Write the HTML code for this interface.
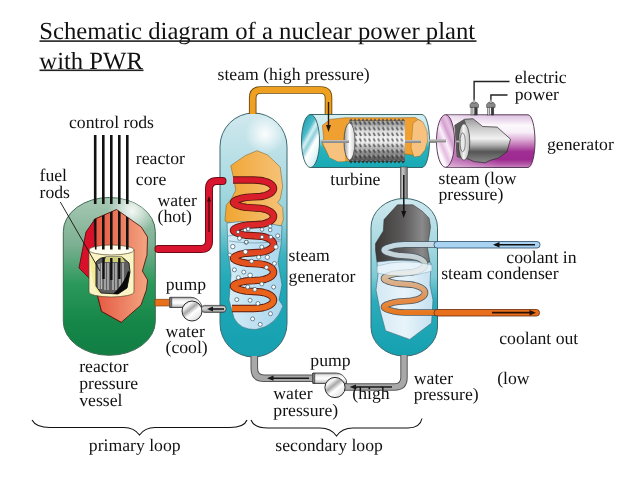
<!DOCTYPE html>
<html><head><meta charset="utf-8">
<style>
html,body{margin:0;padding:0;background:#fff;}
body{width:638px;height:479px;overflow:hidden;}
svg{display:block;will-change:transform;}
text{font-family:"Liberation Serif",serif;fill:#111;text-rendering:geometricPrecision;}
.t{font-size:17.7px;}
</style></head>
<body>
<svg width="638" height="479" viewBox="0 0 638 479">
<defs>
  <linearGradient id="gVessel" x1="0" y1="0" x2="0" y2="1">
    <stop offset="0" stop-color="#a8c8b4"/>
    <stop offset="0.3" stop-color="#7cb092"/>
    <stop offset="0.55" stop-color="#2a985a"/>
    <stop offset="0.8" stop-color="#158648"/>
    <stop offset="1" stop-color="#117e44"/>
  </linearGradient>
  <radialGradient id="gVesselHi" gradientUnits="userSpaceOnUse" cx="132" cy="211" r="24">
    <stop offset="0" stop-color="#ffffff" stop-opacity="0.9"/>
    <stop offset="1" stop-color="#ffffff" stop-opacity="0"/>
  </radialGradient>
  <linearGradient id="gCore" x1="0" y1="0" x2="1" y2="0">
    <stop offset="0" stop-color="#e4523c"/>
    <stop offset="1" stop-color="#f3a582"/>
  </linearGradient>
  <linearGradient id="gSG" x1="0" y1="0" x2="0" y2="1">
    <stop offset="0" stop-color="#d0e8ee"/>
    <stop offset="0.25" stop-color="#b0dce3"/>
    <stop offset="0.45" stop-color="#8ccfd8"/>
    <stop offset="0.58" stop-color="#3cb3c0"/>
    <stop offset="0.7" stop-color="#20a8b6"/>
    <stop offset="1" stop-color="#16a0b0"/>
  </linearGradient>
  <radialGradient id="gSGHi" gradientUnits="userSpaceOnUse" cx="265" cy="134" r="20">
    <stop offset="0" stop-color="#ffffff" stop-opacity="0.95"/>
    <stop offset="1" stop-color="#ffffff" stop-opacity="0"/>
  </radialGradient>
  <linearGradient id="gCoil" gradientUnits="userSpaceOnUse" x1="0" y1="180" x2="0" y2="310">
    <stop offset="0" stop-color="#d8182c"/>
    <stop offset="0.4" stop-color="#dc2a28"/>
    <stop offset="0.6" stop-color="#e4501e"/>
    <stop offset="1" stop-color="#ea6a1a"/>
  </linearGradient>
  <linearGradient id="gCondWater" x1="0" y1="0" x2="1" y2="0">
    <stop offset="0" stop-color="#d4e8f4"/>
    <stop offset="0.5" stop-color="#e8f4fa"/>
    <stop offset="1" stop-color="#c4e0f0"/>
  </linearGradient>
  <linearGradient id="gCCoil" gradientUnits="userSpaceOnUse" x1="0" y1="244" x2="0" y2="313">
    <stop offset="0" stop-color="#c4dae6"/>
    <stop offset="0.2" stop-color="#c6d2d6"/>
    <stop offset="0.4" stop-color="#d6c6aa"/>
    <stop offset="0.6" stop-color="#dcaa80"/>
    <stop offset="0.8" stop-color="#e48e4c"/>
    <stop offset="1" stop-color="#e8781e"/>
  </linearGradient>
  <linearGradient id="gHousing" x1="0" y1="0" x2="0" y2="1">
    <stop offset="0" stop-color="#9a9a9a"/>
    <stop offset="0.25" stop-color="#eeeeee"/>
    <stop offset="0.55" stop-color="#ffffff"/>
    <stop offset="0.85" stop-color="#d0d0d0"/>
    <stop offset="1" stop-color="#8a8a8a"/>
  </linearGradient>
  <linearGradient id="gPumpBall" x1="0.1" y1="0" x2="0.9" y2="1">
    <stop offset="0" stop-color="#bdbdbd"/>
    <stop offset="0.22" stop-color="#f8f8f8"/>
    <stop offset="0.4" stop-color="#a8a8a8"/>
    <stop offset="0.58" stop-color="#ffffff"/>
    <stop offset="0.85" stop-color="#e4e4e4"/>
    <stop offset="1" stop-color="#9a9a9a"/>
  </linearGradient>
  <linearGradient id="gPipeH" x1="0" y1="0" x2="0" y2="1">
    <stop offset="0" stop-color="#8a8a8a"/>
    <stop offset="0.35" stop-color="#d8d8d8"/>
    <stop offset="0.65" stop-color="#c0c0c0"/>
    <stop offset="1" stop-color="#7a7a7a"/>
  </linearGradient>
  <linearGradient id="gPipeV" x1="0" y1="0" x2="1" y2="0">
    <stop offset="0" stop-color="#6a6a6a"/>
    <stop offset="0.35" stop-color="#c8c8c8"/>
    <stop offset="0.7" stop-color="#9a9a9a"/>
    <stop offset="1" stop-color="#6a6a6a"/>
  </linearGradient>
  <linearGradient id="gSteam" x1="0" y1="0" x2="1" y2="0">
    <stop offset="0" stop-color="#f0a530"/>
    <stop offset="1" stop-color="#f6c27a"/>
  </linearGradient>
  <linearGradient id="gWater" x1="0" y1="0" x2="1" y2="0">
    <stop offset="0" stop-color="#d6ecf6"/>
    <stop offset="1" stop-color="#a9d6ee"/>
  </linearGradient>
  <linearGradient id="gTurb" x1="0" y1="0" x2="0" y2="1">
    <stop offset="0" stop-color="#d5eff2"/>
    <stop offset="0.45" stop-color="#bfe6ea"/>
    <stop offset="0.62" stop-color="#2bb3bd"/>
    <stop offset="1" stop-color="#17a9b4"/>
  </linearGradient>
  <linearGradient id="gTurbEnd" x1="0.2" y1="0" x2="0.8" y2="1">
    <stop offset="0" stop-color="#169eae"/>
    <stop offset="0.28" stop-color="#4cbac8"/>
    <stop offset="0.4" stop-color="#d8f0f4"/>
    <stop offset="0.5" stop-color="#8ed0da"/>
    <stop offset="0.62" stop-color="#ffffff"/>
    <stop offset="0.8" stop-color="#e8f6f8"/>
    <stop offset="1" stop-color="#bfe6ec"/>
  </linearGradient>
  <linearGradient id="gGen" x1="0" y1="0" x2="0" y2="1">
    <stop offset="0" stop-color="#dcc0e0"/>
    <stop offset="0.12" stop-color="#eedff0"/>
    <stop offset="0.2" stop-color="#fcf8fc"/>
    <stop offset="0.33" stop-color="#f8f0f8"/>
    <stop offset="0.45" stop-color="#e2b8dc"/>
    <stop offset="0.58" stop-color="#c070b4"/>
    <stop offset="0.7" stop-color="#a02e94"/>
    <stop offset="0.85" stop-color="#9c2a90"/>
    <stop offset="0.95" stop-color="#b860ac"/>
    <stop offset="1" stop-color="#c888c0"/>
  </linearGradient>
  <linearGradient id="gMotorEnd" x1="0" y1="0" x2="1" y2="0">
    <stop offset="0" stop-color="#8a8a8a"/>
    <stop offset="0.45" stop-color="#f4f4f4"/>
    <stop offset="1" stop-color="#b8b8b8"/>
  </linearGradient>
  <linearGradient id="gGenEnd" x1="0.9" y1="0" x2="0.1" y2="1">
    <stop offset="0" stop-color="#b050a8"/>
    <stop offset="0.22" stop-color="#e6c4e2"/>
    <stop offset="0.35" stop-color="#d4a0d0"/>
    <stop offset="0.5" stop-color="#fbf0fa"/>
    <stop offset="0.65" stop-color="#e4bce0"/>
    <stop offset="0.8" stop-color="#ffffff"/>
    <stop offset="1" stop-color="#e8c8e6"/>
  </linearGradient>
  <linearGradient id="gGenShade" x1="0" y1="0" x2="1" y2="0">
    <stop offset="0" stop-color="#ffffff" stop-opacity="0.45"/>
    <stop offset="0.6" stop-color="#ffffff" stop-opacity="0"/>
  </linearGradient>
  <linearGradient id="gMotor" x1="0" y1="0" x2="0" y2="1">
    <stop offset="0" stop-color="#9a9a9a"/>
    <stop offset="0.2" stop-color="#c8c8c8"/>
    <stop offset="0.45" stop-color="#f2f2f2"/>
    <stop offset="0.6" stop-color="#b0b0b0"/>
    <stop offset="0.75" stop-color="#555555"/>
    <stop offset="1" stop-color="#8a8a8a"/>
  </linearGradient>
  <linearGradient id="gCond" x1="0" y1="0" x2="0" y2="1">
    <stop offset="0" stop-color="#cfe8ee"/>
    <stop offset="0.3" stop-color="#a6d8e0"/>
    <stop offset="0.5" stop-color="#7ccad4"/>
    <stop offset="0.65" stop-color="#2aacba"/>
    <stop offset="1" stop-color="#14a0b0"/>
  </linearGradient>
  <linearGradient id="gDark" x1="0" y1="0" x2="1" y2="0">
    <stop offset="0" stop-color="#3c3838"/>
    <stop offset="0.5" stop-color="#5c5a5a"/>
    <stop offset="0.85" stop-color="#8a8a8a"/>
    <stop offset="1" stop-color="#6e6e6e"/>
  </linearGradient>
  <linearGradient id="gPipeG" x1="0" y1="0" x2="0" y2="1">
    <stop offset="0" stop-color="#f0f0f0"/>
    <stop offset="0.5" stop-color="#c8c8c8"/>
    <stop offset="1" stop-color="#8a8a8a"/>
  </linearGradient>
  <radialGradient id="gPump" cx="0.35" cy="0.35" r="0.7">
    <stop offset="0" stop-color="#ffffff"/>
    <stop offset="0.6" stop-color="#d8d8d8"/>
    <stop offset="1" stop-color="#7a7a7a"/>
  </radialGradient>
  <linearGradient id="gRotor" x1="0" y1="0" x2="0" y2="1">
    <stop offset="0" stop-color="#8a8a8a"/>
    <stop offset="0.25" stop-color="#dcdcdc"/>
    <stop offset="0.5" stop-color="#f8f8f8"/>
    <stop offset="0.72" stop-color="#a4a4a4"/>
    <stop offset="1" stop-color="#505050"/>
  </linearGradient>
  <linearGradient id="gRotorEnd" x1="0" y1="0" x2="1" y2="0">
    <stop offset="0" stop-color="#9a9a9a"/>
    <stop offset="0.5" stop-color="#ffffff"/>
    <stop offset="1" stop-color="#d0d0d0"/>
  </linearGradient>
  <pattern id="pBlade" x="349" y="121" width="4.6" height="5.6" patternUnits="userSpaceOnUse">
    <path d="M0.6,0.8 L2.4,0.4 L3.8,3.4 L2,3.9 Z" fill="#262626" opacity="0.65"/>
    <path d="M2.6,0.5 L4.2,0.4 L4.4,2.2 Z" fill="#ffffff" opacity="0.7"/>
  </pattern>
</defs>

<!-- Title -->
<text x="39.2" y="39" style="font-size:24.7px">Schematic diagram of a nuclear power plant</text>
<rect x="39.5" y="40.3" width="437" height="1.6" fill="#222"/>
<text x="39.3" y="68.5" style="font-size:24.7px">with PWR</text>
<rect x="39.5" y="69.5" width="104" height="1.6" fill="#222"/>

<!-- ========== REACTOR ========== -->
<rect x="63.3" y="197.5" width="92" height="157.8" rx="46" ry="34" fill="url(#gVessel)" stroke="#3c6b52" stroke-width="1"/>
<rect x="63.3" y="197.5" width="92" height="157.8" rx="46" ry="34" fill="url(#gVesselHi)"/>
<!-- red left part -->
<polygon points="95,219 86,232 79,268 89,278 97.8,296.7 101.5,311.3 121.3,322.3 117,210" fill="#d8102a" stroke="#5a1010" stroke-width="0.9"/>
<!-- salmon core -->
<clipPath id="cpCore"><polygon points="94,219.5 116.5,209.5 141.3,227 147.5,237 147,255 142.4,271 147.6,280 146.4,290 141,305 121.3,322.3 101.5,311.3 97.8,296.7 92,274 95,250"/></clipPath>
<polygon points="94,219.5 116.5,209.5 141.3,227 147.5,237 147,255 142.4,271 147.6,280 146.4,290 141,305 121.3,322.3 101.5,311.3 97.8,296.7 92,274 95,250" fill="url(#gCore)" stroke="#5a1a10" stroke-width="0.9"/>

<!-- yellow cylinder -->
<path d="M89,250 L89,292 A22.5,5 0 0 0 134,292 L134,250 Z" fill="#fbf5c6" stroke="#5a4a2a" stroke-width="0.7"/>
<path d="M90,256 Q92,290 100,294 L96,262 Z" fill="#f2e88a" opacity="0.8"/>
<ellipse cx="111.5" cy="250" rx="22.5" ry="5" fill="#fffdf0" stroke="#5a4a2a" stroke-width="0.7"/>
<g stroke="#111" stroke-width="2.6" clip-path="url(#cpCore)">
  <line x1="95.2" y1="200" x2="95.2" y2="249.5"/>
  <line x1="103.3" y1="200" x2="103.3" y2="249.5"/>
  <line x1="111.3" y1="200" x2="111.3" y2="249.5"/>
  <line x1="119.3" y1="200" x2="119.3" y2="249.5"/>
  <line x1="127.3" y1="200" x2="127.3" y2="249.5"/>
</g>
<!-- fuel assembly -->
<path d="M96,262 Q100,257 106,257 L122,257 L129,263 L130,272 L127,288 L118,294 L101,293 L96,286 Z" fill="#5e5e5e" stroke="#1a1a1a" stroke-width="0.9"/>
<path d="M106,257 L122,257 L125,262 L104,262 Z" fill="#cfcf7a"/>
<g stroke="#b8b8b8" stroke-width="1.5" fill="none">
  <path d="M99,264 L99,289 M101.5,289 L101.5,263"/>
  <path d="M105,263 L105,290 M108,290 L108,263"/>
  <path d="M113,263 L113,290 M116,290 L116,263"/>
  <path d="M120,263 L120,289 M123,287 L123,263"/>
</g>
<path d="M130,272 L127,288 L118,294 L113,294 Q124,284 128,271 Z" fill="#0a0a0a"/>
<g stroke="#111" stroke-width="2.4">
  <line x1="103.5" y1="258" x2="103.5" y2="279"/>
  <line x1="111.3" y1="258" x2="111.3" y2="280"/>
  <line x1="119.3" y1="258" x2="119.3" y2="279"/>
</g>
<!-- control rods (outside) -->
<g stroke="#111" stroke-width="2.6">
  <line x1="95.2" y1="135" x2="95.2" y2="204"/>
  <line x1="103.3" y1="135" x2="103.3" y2="204"/>
  <line x1="111.3" y1="135" x2="111.3" y2="204"/>
  <line x1="119.3" y1="135" x2="119.3" y2="204"/>
  <line x1="127.3" y1="135" x2="127.3" y2="204"/>
</g>
<!-- fuel rods pointer -->
<line x1="60.3" y1="202" x2="100" y2="271" stroke="#111" stroke-width="0.9"/>

<!-- cool pipe (orange) -->
<rect x="155" y="299.2" width="16" height="6.8" fill="#e8701c" stroke="#7a3a0a" stroke-width="0.6"/>

<!-- pump 1 -->
<path d="M170,297.3 L191,297.3 Q198,297.5 201.5,305 L201.5,307.5 L170,307.5 Z" fill="url(#gHousing)" stroke="#333" stroke-width="0.8"/>
<rect x="169.3" y="297.8" width="2.6" height="9.4" fill="#777" stroke="#333" stroke-width="0.5"/>
<circle cx="192" cy="311" r="10" fill="url(#gPumpBall)" stroke="#2a2a2a" stroke-width="1"/>

<!-- ========== STEAM GENERATOR ========== -->
<rect x="220" y="113" width="67" height="244" rx="33.5" ry="33.5" fill="url(#gSG)" stroke="#3a6870" stroke-width="1"/>
<rect x="220" y="113" width="67" height="244" rx="33.5" ry="33.5" fill="url(#gSGHi)"/>
<!-- steam (orange) -->
<polygon points="257,150.7 267.7,155 280.2,167 282.7,186.4 280.2,199 277.7,202.5 282.7,207.5 283.3,220 281,226 250,224 226,222 225,220 226.3,205 231.3,199 235.7,190.2 234.4,181.4 230.7,165.7 245.1,155.7" fill="url(#gSteam)" stroke="#8a6a30" stroke-width="0.6"/>
<!-- water (light blue) -->
<path d="M227,223 Q250,219 282,226 L281,245 L278,262 L282,285 L279,300 L283,306 Q276,326 256,329.5 Q240,330 234,318 L229,300 L231,275 L228,250 Z" fill="url(#gWater)" stroke="#3a6a7a" stroke-width="0.6"/>
<path d="M228,236 Q255,232 281,240 M229,241 Q255,245 280,241" fill="none" stroke="#5a8a9a" stroke-width="0.6"/>
<!-- coil -->
<path d="M233,180 L253.5,180.0 L260.7,180.5 L263.4,181.0 L265.3,181.5 L266.8,182.0 L268.1,182.5 L269.2,183.1 L270.2,183.6 L271.0,184.2 L271.7,184.8 L272.2,185.4 L272.7,186.0 L273.1,186.6 L273.3,187.2 L273.5,187.8 L273.5,188.5 L273.5,189.1 L273.3,189.7 L273.1,190.3 L272.7,190.9 L272.2,191.5 L271.7,192.1 L271.0,192.7 L270.2,193.3 L269.2,193.9 L268.1,194.4 L266.8,195.0 L265.3,195.5 L263.4,196.0 L260.7,196.5 L253.5,196.9 L246.3,197.4 L243.6,197.8 L241.7,198.3 L240.2,198.7 L238.9,199.1 L237.8,199.4 L236.8,199.8 L236.0,200.2 L235.3,200.5 L234.8,200.8 L234.3,201.2 L233.9,201.5 L233.7,201.8 L233.5,202.1 L233.5,202.4 L233.5,202.7 L233.7,203.0 L233.9,203.3 L234.3,203.7 L234.8,204.0 L235.3,204.3 L236.0,204.7 L236.8,205.0 L237.8,205.4 L238.9,205.8 L240.2,206.2 L241.7,206.6 L243.6,207.0 L246.3,207.4 L253.5,207.9 L260.7,208.4 L263.4,208.8 L265.3,209.3 L266.8,209.9 L268.1,210.4 L269.2,211.0 L270.2,211.5 L271.0,212.1 L271.7,212.7 L272.2,213.3 L272.7,213.9 L273.1,214.5 L273.3,215.1 L273.5,215.7 L273.5,216.3 L273.5,217.0 L273.3,217.6 L273.1,218.2 L272.7,218.8 L272.2,219.4 L271.7,220.0 L271.0,220.6 L270.2,221.2 L269.2,221.7 L268.1,222.3 L266.8,222.8 L265.3,223.4 L263.4,223.9 L260.7,224.3 L253.5,224.8 L246.3,225.3 L243.6,225.7 L241.7,226.1 L240.2,226.5 L238.9,226.9 L237.8,227.3 L236.8,227.7 L236.0,228.0 L235.3,228.4 L234.8,228.7 L234.3,229.0 L233.9,229.4 L233.7,229.7 L233.5,230.0 L233.5,230.3 L233.5,230.6 L233.7,230.9 L233.9,231.2 L234.3,231.5 L234.8,231.9 L235.3,232.2 L236.0,232.5 L236.8,232.9 L237.8,233.3 L238.9,233.6 L240.2,234.0 L241.7,234.4 L243.6,234.9 L246.3,235.3 L253.5,235.8 L260.7,236.2 L263.4,236.7 L265.3,237.2 L266.8,237.7 L268.1,238.3 L269.2,238.8 L270.2,239.4 L271.0,240.0 L271.7,240.6 L272.2,241.2 L272.7,241.8 L273.1,242.4 L273.3,243.0 L273.5,243.6 L273.5,244.2 L273.5,244.9 L273.3,245.5 L273.1,246.1 L272.7,246.7 L272.2,247.3 L271.7,247.9 L271.0,248.5 L270.2,249.1 L269.2,249.6 L268.1,250.2 L266.8,250.7 L265.3,251.2 L263.4,251.7 L260.7,252.2 L253.5,252.7 L246.3,253.2 L243.6,253.6 L241.7,254.0 L240.2,254.4 L238.9,254.8 L237.8,255.2 L236.8,255.6 L236.0,255.9 L235.3,256.3 L234.8,256.6 L234.3,256.9 L233.9,257.2 L233.7,257.6 L233.5,257.9 L233.5,258.2 L233.5,258.5 L233.7,258.8 L233.9,259.1 L234.3,259.4 L234.8,259.7 L235.3,260.1 L236.0,260.4 L236.8,260.8 L237.8,261.1 L238.9,261.5 L240.2,261.9 L241.7,262.3 L243.6,262.7 L246.3,263.2 L253.5,263.6 L260.7,264.1 L263.4,264.6 L265.3,265.1 L266.8,265.6 L268.1,266.2 L269.2,266.7 L270.2,267.3 L271.0,267.9 L271.7,268.4 L272.2,269.0 L272.7,269.6 L273.1,270.3 L273.3,270.9 L273.5,271.5 L273.5,272.1 L273.5,272.7 L273.3,273.4 L273.1,274.0 L272.7,274.6 L272.2,275.2 L271.7,275.8 L271.0,276.4 L270.2,276.9 L269.2,277.5 L268.1,278.1 L266.8,278.6 L265.3,279.1 L263.4,279.6 L260.7,280.1 L253.5,280.6 L246.3,281.0 L243.6,281.5 L241.7,281.9 L240.2,282.3 L238.9,282.7 L237.8,283.1 L236.8,283.4 L236.0,283.8 L235.3,284.1 L234.8,284.5 L234.3,284.8 L233.9,285.1 L233.7,285.4 L233.5,285.7 L233.5,286.0 L233.5,286.4 L233.7,286.7 L233.9,287.0 L234.3,287.3 L234.8,287.6 L235.3,288.0 L236.0,288.3 L236.8,288.7 L237.8,289.0 L238.9,289.4 L240.2,289.8 L241.7,290.2 L243.6,290.6 L246.3,291.1 L253.5,291.5 L260.7,292.0 L263.4,292.5 L265.3,293.0 L266.8,293.5 L268.1,294.0 L269.2,294.6 L270.2,295.2 L271.0,295.7 L271.7,296.3 L272.2,296.9 L272.7,297.5 L273.1,298.1 L273.3,298.7 L273.5,299.4 L273.5,300.0 L273.5,300.6 L273.3,301.2 L273.1,301.8 L272.7,302.5 L272.2,303.1 L271.7,303.7 L271.0,304.2 L270.2,304.8 L269.2,305.4 L268.1,305.9 L266.8,306.5 L265.3,307.0 L263.4,307.5 L260.7,308.0 L253.5,308.5 L232,308.5" fill="none" stroke="#5a1a10" stroke-width="7.4" stroke-linejoin="round"/>
<path d="M233,180 L253.5,180.0 L260.7,180.5 L263.4,181.0 L265.3,181.5 L266.8,182.0 L268.1,182.5 L269.2,183.1 L270.2,183.6 L271.0,184.2 L271.7,184.8 L272.2,185.4 L272.7,186.0 L273.1,186.6 L273.3,187.2 L273.5,187.8 L273.5,188.5 L273.5,189.1 L273.3,189.7 L273.1,190.3 L272.7,190.9 L272.2,191.5 L271.7,192.1 L271.0,192.7 L270.2,193.3 L269.2,193.9 L268.1,194.4 L266.8,195.0 L265.3,195.5 L263.4,196.0 L260.7,196.5 L253.5,196.9 L246.3,197.4 L243.6,197.8 L241.7,198.3 L240.2,198.7 L238.9,199.1 L237.8,199.4 L236.8,199.8 L236.0,200.2 L235.3,200.5 L234.8,200.8 L234.3,201.2 L233.9,201.5 L233.7,201.8 L233.5,202.1 L233.5,202.4 L233.5,202.7 L233.7,203.0 L233.9,203.3 L234.3,203.7 L234.8,204.0 L235.3,204.3 L236.0,204.7 L236.8,205.0 L237.8,205.4 L238.9,205.8 L240.2,206.2 L241.7,206.6 L243.6,207.0 L246.3,207.4 L253.5,207.9 L260.7,208.4 L263.4,208.8 L265.3,209.3 L266.8,209.9 L268.1,210.4 L269.2,211.0 L270.2,211.5 L271.0,212.1 L271.7,212.7 L272.2,213.3 L272.7,213.9 L273.1,214.5 L273.3,215.1 L273.5,215.7 L273.5,216.3 L273.5,217.0 L273.3,217.6 L273.1,218.2 L272.7,218.8 L272.2,219.4 L271.7,220.0 L271.0,220.6 L270.2,221.2 L269.2,221.7 L268.1,222.3 L266.8,222.8 L265.3,223.4 L263.4,223.9 L260.7,224.3 L253.5,224.8 L246.3,225.3 L243.6,225.7 L241.7,226.1 L240.2,226.5 L238.9,226.9 L237.8,227.3 L236.8,227.7 L236.0,228.0 L235.3,228.4 L234.8,228.7 L234.3,229.0 L233.9,229.4 L233.7,229.7 L233.5,230.0 L233.5,230.3 L233.5,230.6 L233.7,230.9 L233.9,231.2 L234.3,231.5 L234.8,231.9 L235.3,232.2 L236.0,232.5 L236.8,232.9 L237.8,233.3 L238.9,233.6 L240.2,234.0 L241.7,234.4 L243.6,234.9 L246.3,235.3 L253.5,235.8 L260.7,236.2 L263.4,236.7 L265.3,237.2 L266.8,237.7 L268.1,238.3 L269.2,238.8 L270.2,239.4 L271.0,240.0 L271.7,240.6 L272.2,241.2 L272.7,241.8 L273.1,242.4 L273.3,243.0 L273.5,243.6 L273.5,244.2 L273.5,244.9 L273.3,245.5 L273.1,246.1 L272.7,246.7 L272.2,247.3 L271.7,247.9 L271.0,248.5 L270.2,249.1 L269.2,249.6 L268.1,250.2 L266.8,250.7 L265.3,251.2 L263.4,251.7 L260.7,252.2 L253.5,252.7 L246.3,253.2 L243.6,253.6 L241.7,254.0 L240.2,254.4 L238.9,254.8 L237.8,255.2 L236.8,255.6 L236.0,255.9 L235.3,256.3 L234.8,256.6 L234.3,256.9 L233.9,257.2 L233.7,257.6 L233.5,257.9 L233.5,258.2 L233.5,258.5 L233.7,258.8 L233.9,259.1 L234.3,259.4 L234.8,259.7 L235.3,260.1 L236.0,260.4 L236.8,260.8 L237.8,261.1 L238.9,261.5 L240.2,261.9 L241.7,262.3 L243.6,262.7 L246.3,263.2 L253.5,263.6 L260.7,264.1 L263.4,264.6 L265.3,265.1 L266.8,265.6 L268.1,266.2 L269.2,266.7 L270.2,267.3 L271.0,267.9 L271.7,268.4 L272.2,269.0 L272.7,269.6 L273.1,270.3 L273.3,270.9 L273.5,271.5 L273.5,272.1 L273.5,272.7 L273.3,273.4 L273.1,274.0 L272.7,274.6 L272.2,275.2 L271.7,275.8 L271.0,276.4 L270.2,276.9 L269.2,277.5 L268.1,278.1 L266.8,278.6 L265.3,279.1 L263.4,279.6 L260.7,280.1 L253.5,280.6 L246.3,281.0 L243.6,281.5 L241.7,281.9 L240.2,282.3 L238.9,282.7 L237.8,283.1 L236.8,283.4 L236.0,283.8 L235.3,284.1 L234.8,284.5 L234.3,284.8 L233.9,285.1 L233.7,285.4 L233.5,285.7 L233.5,286.0 L233.5,286.4 L233.7,286.7 L233.9,287.0 L234.3,287.3 L234.8,287.6 L235.3,288.0 L236.0,288.3 L236.8,288.7 L237.8,289.0 L238.9,289.4 L240.2,289.8 L241.7,290.2 L243.6,290.6 L246.3,291.1 L253.5,291.5 L260.7,292.0 L263.4,292.5 L265.3,293.0 L266.8,293.5 L268.1,294.0 L269.2,294.6 L270.2,295.2 L271.0,295.7 L271.7,296.3 L272.2,296.9 L272.7,297.5 L273.1,298.1 L273.3,298.7 L273.5,299.4 L273.5,300.0 L273.5,300.6 L273.3,301.2 L273.1,301.8 L272.7,302.5 L272.2,303.1 L271.7,303.7 L271.0,304.2 L270.2,304.8 L269.2,305.4 L268.1,305.9 L266.8,306.5 L265.3,307.0 L263.4,307.5 L260.7,308.0 L253.5,308.5 L232,308.5" fill="none" stroke="url(#gCoil)" stroke-width="5.6" stroke-linejoin="round"/>
<!-- bubbles -->
<g fill="#fff" stroke="#3a5a6a" stroke-width="0.7">
<circle cx="232.8" cy="246.6" r="2.2"/><circle cx="246.2" cy="242.4" r="2"/><circle cx="261.8" cy="247" r="2"/><circle cx="275.9" cy="247" r="2.2"/><circle cx="229.7" cy="254.9" r="1.8"/><circle cx="245.4" cy="251.8" r="2.3"/><circle cx="258.7" cy="257.2" r="2"/><circle cx="267.3" cy="257.2" r="2.2"/><circle cx="251.6" cy="261.2" r="2"/><circle cx="274.4" cy="263.5" r="2"/><circle cx="234.4" cy="269.8" r="2"/><circle cx="243.8" cy="272.1" r="2"/><circle cx="250.1" cy="275.3" r="2.3"/><circle cx="266.5" cy="267.4" r="2"/><circle cx="238.3" cy="277.6" r="2"/><circle cx="261.8" cy="283.9" r="2"/><circle cx="247.7" cy="287" r="2"/><circle cx="254.8" cy="289.4" r="2"/><circle cx="273.6" cy="287" r="2"/><circle cx="236.8" cy="299.6" r="2"/><circle cx="250.1" cy="300.3" r="2"/><circle cx="257.9" cy="303.5" r="2"/><circle cx="270.5" cy="313.7" r="2"/><circle cx="252.6" cy="318.9" r="2"/><circle cx="260.2" cy="324.4" r="2"/><circle cx="245.1" cy="230.1" r="1.8"/><circle cx="248.2" cy="228.9" r="1.8"/><circle cx="262" cy="229.5" r="1.8"/><circle cx="270.2" cy="226.3" r="1.8"/><circle cx="270.2" cy="230" r="1.8"/><circle cx="277.7" cy="235.8" r="2"/><circle cx="239.5" cy="238.3" r="2"/><circle cx="270.8" cy="237" r="1.8"/><circle cx="246.3" cy="242" r="1.8"/><circle cx="262" cy="237" r="1.8"/><circle cx="238" cy="232" r="1.6"/>
</g>

<!-- hot pipe (red) -->
<path d="M158.5,249 L201,249 Q209,249 209,241 L209,189 Q209,181 217,181 L222.5,181" fill="none" stroke="#6a0a14" stroke-width="8" stroke-linecap="round"/>
<path d="M158.5,249 L201,249 Q209,249 209,241 L209,189 Q209,181 217,181 L222.5,181" fill="none" stroke="#d8142e" stroke-width="6.2" stroke-linecap="round"/>
<path d="M209,232 L209,200" stroke="#3a0a0a" stroke-width="1.2"/><path d="M207,201.5 L209,196 L211,201.5 Z" fill="#3a0a0a"/>

<!-- pump1 outlet pipe -->
<rect x="201.5" y="305.4" width="24.5" height="7" rx="3" fill="url(#gPipeH)" stroke="#333" stroke-width="0.7"/>
<path d="M224,309 L211,309" stroke="#1a1a1a" stroke-width="1.6"/><path d="M213,306.5 L207,309 L213,311.5 Z" fill="#1a1a1a"/>

<!-- steam pipe top (orange) -->
<path d="M252.7,114 L252.7,98 Q252.7,90 260.7,90 L320.5,90 Q328.5,90 328.5,98 L328.5,117" fill="none" stroke="#6a4a10" stroke-width="7.6"/>
<path d="M252.7,114 L252.7,98 Q252.7,90 260.7,90 L320.5,90 Q328.5,90 328.5,98 L328.5,117" fill="none" stroke="#f0a020" stroke-width="5.8"/>

<!-- ========== TURBINE ========== -->
<path d="M310,114.5 L422,114.5 A7.5,26.5 0 0 1 422,167.5 L310,167.5 Z" fill="url(#gTurb)" stroke="#2a5a60" stroke-width="0.9"/>
<!-- orange inside -->
<path d="M330,119.4 L345,117.8 L400,117.8 L415,117.5 L421,121 L427,133 L425,148 L419,156 L405,154 L390,158 L370,157 L352,161 L338,161.5 L329.7,157.4 L322.4,144 L323.7,138.7 L322.4,125.4 Z" fill="#f0a030" stroke="#8a5a1a" stroke-width="0.5"/>
<path d="M413,123 L418,119.5 L423,122 L427,131 L427.5,141 L425,150 L420,156 L414,157 L411,148 L412,135 Z" fill="#f6c27e" stroke="#8a5a1a" stroke-width="0.4"/>
<path d="M322.8,142 L345,142 L345,161.3 L338,161.5 L329.7,157.4 Z" fill="#f6c27e"/>
<!-- rotor -->
<path d="M349,121 L405,121 L405,161 L349,161 Z" fill="url(#gRotor)"/>
<rect x="349" y="121" width="56" height="40" fill="url(#pBlade)"/>
<path d="M349,121 l2,-2.5 l2,2.5 l2,-2.5 l2,2.5 l2,-2.5 l2,2.5 l2,-2.5 l2,2.5 l2,-2.5 l2,2.5 l2,-2.5 l2,2.5 l2,-2.5 l2,2.5 l2,-2.5 l2,2.5 l2,-2.5 l2,2.5 l2,-2.5 l2,2.5 l2,-2.5 l2,2.5 l2,-2.5 l2,2.5 l2,-2.5 l2,2.5 l2,-2.5 l2,2.5 Z" fill="#555"/>
<path d="M349,161 l2,2.5 l2,-2.5 l2,2.5 l2,-2.5 l2,2.5 l2,-2.5 l2,2.5 l2,-2.5 l2,2.5 l2,-2.5 l2,2.5 l2,-2.5 l2,2.5 l2,-2.5 l2,2.5 l2,-2.5 l2,2.5 l2,-2.5 l2,2.5 l2,-2.5 l2,2.5 l2,-2.5 l2,2.5 l2,-2.5 l2,2.5 l2,-2.5 l2,2.5 l2,-2.5 Z" fill="#333"/>
<ellipse cx="349.5" cy="141.5" rx="5.5" ry="18.5" fill="url(#gRotorEnd)" stroke="#444" stroke-width="0.8"/>
<!-- shaft -->
<rect x="321" y="140.2" width="28" height="2.8" fill="#8c8c8c"/>
<rect x="321" y="140.2" width="28" height="1" fill="#c8c8c8"/>
<rect x="405" y="140.2" width="16" height="2.8" fill="#8c8c8c"/>
<rect x="405" y="140.2" width="16" height="1" fill="#c8c8c8"/>
<rect x="430" y="140.2" width="15" height="2.8" fill="#8c8c8c"/>
<rect x="430" y="140.2" width="15" height="1" fill="#c8c8c8"/>
<!-- left end face -->
<ellipse cx="310.5" cy="141" rx="9" ry="26.5" fill="url(#gTurbEnd)" stroke="#2a5a60" stroke-width="0.9"/>
<!-- arrow in steam pipe -->
<path d="M328.5,102 L328.5,126" stroke="#2a1a05" stroke-width="1.4"/><path d="M326,125 L328.5,132 L331,125 Z" fill="#2a1a05"/>

<!-- ========== GENERATOR ========== -->
<path d="M446,114.8 L528,114.8 A7,26.35 0 0 1 528,167.5 L446,167.5 Z" fill="url(#gGen)" stroke="#4a2a48" stroke-width="0.9"/>
<path d="M446,114.8 L528,114.8 A7,26.35 0 0 1 528,167.5 L446,167.5 Z" fill="url(#gGenShade)"/>
<!-- motor -->
<path d="M454.8,125.3 L464.5,119.3 L473,118.7 L482.7,126.5 L497.2,127.1 L510.5,139.2 L506.9,152 L498.4,158 L490,160.4 L485.1,162.8 L474.2,161.6 L465.7,158 L457.3,156.8 Z" fill="url(#gMotor)" stroke="#2a2a2a" stroke-width="0.7"/>
<path d="M454.8,125.3 L464.5,119.3 L466,124 Q458,141 465,160 L457.3,156.8 Z" fill="#5a5a5a"/>
<ellipse cx="464" cy="142" rx="5.8" ry="18.3" fill="url(#gMotorEnd)" stroke="#333" stroke-width="0.7"/>
<ellipse cx="462.7" cy="142.3" rx="2.6" ry="9.5" fill="#e8e8e8" stroke="#444" stroke-width="0.6"/>
<rect x="456" y="140.2" width="4" height="2.4" fill="#bbb" stroke="#555" stroke-width="0.4"/>
<ellipse cx="445.5" cy="141" rx="9" ry="26.3" fill="url(#gGenEnd)" stroke="#4a2a48" stroke-width="0.9"/>
<rect x="429" y="139.6" width="17" height="2.8" fill="#8c8c8c"/>
<rect x="429" y="139.6" width="17" height="1" fill="#c8c8c8"/>
<!-- terminals -->
<g stroke="#333" stroke-width="0.5">
  <rect x="471" y="107" width="2" height="8" fill="#d0d0d0"/><rect x="474.6" y="107" width="2.6" height="8" fill="#3a3a3a"/>
  <path d="M470,104.5 L471.5,102.6 L477,102.6 L478.5,104.5 L478.5,107.4 L470,107.4 Z" fill="#8a8a8a"/>
  <rect x="487.6" y="107" width="2" height="8" fill="#d0d0d0"/><rect x="491.2" y="107" width="2.6" height="8" fill="#3a3a3a"/>
  <path d="M486.6,104.5 L488.1,102.6 L493.6,102.6 L495.1,104.5 L495.1,107.4 L486.6,107.4 Z" fill="#8a8a8a"/>
  <path d="M472.8,103 L474.1,99 L475.4,103 Z" fill="#eee"/>
  <path d="M489.6,103 L490.9,99 L492.2,103 Z" fill="#eee"/>
</g>
<path d="M474.1,99.5 L474.1,81.5 L509.5,81.5 M490.9,99.5 L490.9,95 L507.5,95" fill="none" stroke="#222" stroke-width="1.4"/>

<!-- turbine -> condenser gray pipe -->
<rect x="400.3" y="167" width="7" height="35" fill="url(#gPipeV)" stroke="#444" stroke-width="0.6"/>

<!-- ========== CONDENSER ========== -->
<rect x="371" y="198.5" width="66.5" height="157.5" rx="33" ry="29" fill="url(#gCond)" stroke="#3a6870" stroke-width="1"/>
<!-- dark steam -->
<path d="M397.4,204.8 L412.9,204.8 L422,211 L429.1,218.2 L430.5,226.7 L429.1,236.5 L427.3,247 L429.8,262 L377,262 L375.5,250 L375.5,243.6 L383.3,230.9 L384,219.6 Z" fill="url(#gDark)" stroke="#2a2a2a" stroke-width="0.5"/>
<!-- light blue water -->
<path d="M377,262 Q404,258 431,263 L430,285 L433,300 L431.6,323 L409.7,339.4 L385.5,330.7 L380,310 L376,290 L378,275 Z" fill="url(#gCondWater)" stroke="#3a6a7a" stroke-width="0.6"/>
<!-- coils -->
<path d="M436,244.5 L404.5,244.5 L397.9,245.0 L395.2,245.4 L393.1,245.8 L391.4,246.3 L390.0,246.7 L388.8,247.1 L387.7,247.4 L386.8,247.8 L386.1,248.1 L385.4,248.5 L384.9,248.8 L384.5,249.1 L384.2,249.5 L384.1,249.8 L384.0,250.1 L384.1,250.4 L384.2,250.7 L384.5,251.1 L384.9,251.4 L385.4,251.7 L386.1,252.1 L386.8,252.4 L387.7,252.8 L388.8,253.1 L390.0,253.5 L391.4,253.9 L393.1,254.4 L395.2,254.8 L397.9,255.2 L404.5,255.7 L411.1,256.2 L413.8,256.7 L415.9,257.2 L417.6,257.7 L419.0,258.3 L420.2,258.8 L421.3,259.4 L422.2,260.0 L422.9,260.6 L423.6,261.2 L424.1,261.8 L424.5,262.4 L424.8,263.0 L424.9,263.7 L425.0,264.3 L424.9,264.9 L424.8,265.6 L424.5,266.2 L424.1,266.8 L423.6,267.4 L422.9,268.0 L422.2,268.6 L421.3,269.2 L420.2,269.8 L419.0,270.3 L417.6,270.9 L415.9,271.4 L413.8,271.9 L411.1,272.4 L404.5,272.9 L397.9,273.4 L395.2,273.8 L393.1,274.2 L391.4,274.7 L390.0,275.1 L388.8,275.5 L387.7,275.8 L386.8,276.2 L386.1,276.5 L385.4,276.9 L384.9,277.2 L384.5,277.5 L384.2,277.9 L384.1,278.2 L384.0,278.5 L384.1,278.8 L384.2,279.1 L384.5,279.5 L384.9,279.8 L385.4,280.1 L386.1,280.5 L386.8,280.8 L387.7,281.2 L388.8,281.5 L390.0,281.9 L391.4,282.3 L393.1,282.8 L395.2,283.2 L397.9,283.6 L404.5,284.1 L411.1,284.6 L413.8,285.1 L415.9,285.6 L417.6,286.1 L419.0,286.7 L420.2,287.2 L421.3,287.8 L422.2,288.4 L422.9,289.0 L423.6,289.6 L424.1,290.2 L424.5,290.8 L424.8,291.4 L424.9,292.1 L425.0,292.7 L424.9,293.3 L424.8,294.0 L424.5,294.6 L424.1,295.2 L423.6,295.8 L422.9,296.4 L422.2,297.0 L421.3,297.6 L420.2,298.2 L419.0,298.7 L417.6,299.3 L415.9,299.8 L413.8,300.3 L411.1,300.8 L404.5,301.3 L397.9,301.8 L395.2,302.2 L393.1,302.6 L391.4,303.1 L390.0,303.5 L388.8,303.9 L387.7,304.2 L386.8,304.6 L386.1,304.9 L385.4,305.3 L384.9,305.6 L384.5,305.9 L384.2,306.3 L384.1,306.6 L384.0,306.9 L384.1,307.2 L384.2,307.5 L384.5,307.9 L384.9,308.2 L385.4,308.5 L386.1,308.9 L386.8,309.2 L387.7,309.6 L388.8,309.9 L390.0,310.3 L391.4,310.7 L393.1,311.2 L395.2,311.6 L397.9,312.0 L404.5,312.5 L436,312.5" fill="none" stroke="#4a5a66" stroke-width="6.6" stroke-linejoin="round"/>
<path d="M436,244.5 L404.5,244.5 L397.9,245.0 L395.2,245.4 L393.1,245.8 L391.4,246.3 L390.0,246.7 L388.8,247.1 L387.7,247.4 L386.8,247.8 L386.1,248.1 L385.4,248.5 L384.9,248.8 L384.5,249.1 L384.2,249.5 L384.1,249.8 L384.0,250.1 L384.1,250.4 L384.2,250.7 L384.5,251.1 L384.9,251.4 L385.4,251.7 L386.1,252.1 L386.8,252.4 L387.7,252.8 L388.8,253.1 L390.0,253.5 L391.4,253.9 L393.1,254.4 L395.2,254.8 L397.9,255.2 L404.5,255.7 L411.1,256.2 L413.8,256.7 L415.9,257.2 L417.6,257.7 L419.0,258.3 L420.2,258.8 L421.3,259.4 L422.2,260.0 L422.9,260.6 L423.6,261.2 L424.1,261.8 L424.5,262.4 L424.8,263.0 L424.9,263.7 L425.0,264.3 L424.9,264.9 L424.8,265.6 L424.5,266.2 L424.1,266.8 L423.6,267.4 L422.9,268.0 L422.2,268.6 L421.3,269.2 L420.2,269.8 L419.0,270.3 L417.6,270.9 L415.9,271.4 L413.8,271.9 L411.1,272.4 L404.5,272.9 L397.9,273.4 L395.2,273.8 L393.1,274.2 L391.4,274.7 L390.0,275.1 L388.8,275.5 L387.7,275.8 L386.8,276.2 L386.1,276.5 L385.4,276.9 L384.9,277.2 L384.5,277.5 L384.2,277.9 L384.1,278.2 L384.0,278.5 L384.1,278.8 L384.2,279.1 L384.5,279.5 L384.9,279.8 L385.4,280.1 L386.1,280.5 L386.8,280.8 L387.7,281.2 L388.8,281.5 L390.0,281.9 L391.4,282.3 L393.1,282.8 L395.2,283.2 L397.9,283.6 L404.5,284.1 L411.1,284.6 L413.8,285.1 L415.9,285.6 L417.6,286.1 L419.0,286.7 L420.2,287.2 L421.3,287.8 L422.2,288.4 L422.9,289.0 L423.6,289.6 L424.1,290.2 L424.5,290.8 L424.8,291.4 L424.9,292.1 L425.0,292.7 L424.9,293.3 L424.8,294.0 L424.5,294.6 L424.1,295.2 L423.6,295.8 L422.9,296.4 L422.2,297.0 L421.3,297.6 L420.2,298.2 L419.0,298.7 L417.6,299.3 L415.9,299.8 L413.8,300.3 L411.1,300.8 L404.5,301.3 L397.9,301.8 L395.2,302.2 L393.1,302.6 L391.4,303.1 L390.0,303.5 L388.8,303.9 L387.7,304.2 L386.8,304.6 L386.1,304.9 L385.4,305.3 L384.9,305.6 L384.5,305.9 L384.2,306.3 L384.1,306.6 L384.0,306.9 L384.1,307.2 L384.2,307.5 L384.5,307.9 L384.9,308.2 L385.4,308.5 L386.1,308.9 L386.8,309.2 L387.7,309.6 L388.8,309.9 L390.0,310.3 L391.4,310.7 L393.1,311.2 L395.2,311.6 L397.9,312.0 L404.5,312.5 L436,312.5" fill="none" stroke="url(#gCCoil)" stroke-width="5" stroke-linejoin="round"/>
<path d="M377,266 Q404,258 432,265 L432,271 Q404,280 377,273 Z" fill="#eaf5fb" stroke="#6a9aaa" stroke-width="0.5" opacity="0.8"/>
<!-- arrow into condenser -->
<path d="M403.8,175 L403.8,212" stroke="#111" stroke-width="1.5"/><path d="M401.2,211 L403.7,218 L406.2,211 Z" fill="#111"/>

<!-- coolant in pipe -->
<rect x="434" y="241.5" width="106" height="6.5" rx="3" fill="#a9d3f0" stroke="#2a4a6a" stroke-width="0.8"/>
<path d="M535,244.8 L495,244.8" stroke="#111" stroke-width="1.6"/><path d="M499.5,242 L493,244.8 L499.5,247.6 Z" fill="#111"/>
<!-- coolant out pipe -->
<rect x="434" y="309.5" width="105.5" height="6.5" rx="3" fill="#e8701c" stroke="#6a2a0a" stroke-width="0.8"/>
<path d="M492,312.7 L533,312.7" stroke="#2a1005" stroke-width="1.7"/><path d="M529.5,309.9 L536,312.7 L529.5,315.5 Z" fill="#2a1005"/>

<!-- bottom gray loop -->
<path d="M254.3,356 L254.3,368.5 Q254.3,378.2 264,378.2 L314,378.2" fill="none" stroke="#555" stroke-width="7.6"/>
<path d="M254.3,356 L254.3,368.5 Q254.3,378.2 264,378.2 L314,378.2" fill="none" stroke="#a8a8a8" stroke-width="5.6"/>
<path d="M404,355 L404,377.5 Q404,387 394.5,387 L343,387" fill="none" stroke="#555" stroke-width="7.4"/>
<path d="M404,355 L404,377.5 Q404,387 394.5,387 L343,387" fill="none" stroke="#a8a8a8" stroke-width="5.4"/>
<path d="M309,378.2 L272,378.2" stroke="#1a1a1a" stroke-width="1.6"/><path d="M273.5,375.6 L267,378.2 L273.5,380.8 Z" fill="#1a1a1a"/>
<path d="M392,387 L354,387" stroke="#1a1a1a" stroke-width="1.6"/><path d="M356,384.4 L349.5,387 L356,389.6 Z" fill="#1a1a1a"/>
<!-- pump 2 -->
<path d="M313,373 L336,373 Q343,373.2 346.5,380.5 L346.5,383.5 L313,383.5 Z" fill="url(#gHousing)" stroke="#333" stroke-width="0.8"/>
<rect x="312.3" y="373.5" width="2.6" height="9.5" fill="#777" stroke="#333" stroke-width="0.5"/>
<circle cx="335" cy="387.5" r="10.1" fill="url(#gPumpBall)" stroke="#2a2a2a" stroke-width="1"/>

<!-- braces -->
<path d="M32,420 Q36,427.5 50,427.5 L124,427.5 Q134,427.5 139.5,435 Q145,427.5 155,427.5 L230,427.5 Q244,427.5 247,420" fill="none" stroke="#111" stroke-width="1.1"/>
<path d="M251,420 Q254,428 268,428 L320,428 Q331,428 336.5,436 Q342,428 353,428 L408,428 Q420,428 422,418.5" fill="none" stroke="#111" stroke-width="1.1"/>

<!-- Labels -->
<g class="t">
<text x="217.5" y="80">steam (high pressure)</text>
<text x="69" y="127.5">control rods</text>
<text x="135.8" y="164">reactor</text>
<text x="135.8" y="185">core</text>
<text x="39.5" y="180.5">fuel</text>
<text x="39.5" y="198">rods</text>
<text x="157.5" y="205.5">water</text>
<text x="157.5" y="222.3">(hot)</text>
<text x="165.7" y="290.1">pump</text>
<text x="165.5" y="337.2">water</text>
<text x="165.5" y="353">(cool)</text>
<text x="79.2" y="372.4">reactor</text>
<text x="79.2" y="389">pressure</text>
<text x="79.2" y="405.5">vessel</text>
<text x="288.6" y="260.6">steam</text>
<text x="288.6" y="281.7">generator</text>
<text x="330.3" y="185">turbine</text>
<text x="438.5" y="184.4">steam (low</text>
<text x="438.5" y="200.1">pressure)</text>
<text x="514.7" y="82.6">electric</text>
<text x="514.7" y="100">power</text>
<text x="547" y="150.2">generator</text>
<text x="506.3" y="263.2">coolant in</text>
<text x="441.2" y="278.8">steam condenser</text>
<text x="499.2" y="343.8">coolant out</text>
<text x="310.3" y="366">pump</text>
<text x="273.3" y="399">water</text>
<text x="273.3" y="416.2">pressure)</text>
<text x="352.3" y="399">(high</text>
<text x="413.8" y="383.8">water</text>
<text x="413.8" y="400.1">pressure)</text>
<text x="497.2" y="383.8">(low</text>
<text x="88.8" y="450.8">primary loop</text>
<text x="275.3" y="451.2">secondary loop</text>
</g>
</svg>
</body></html>
